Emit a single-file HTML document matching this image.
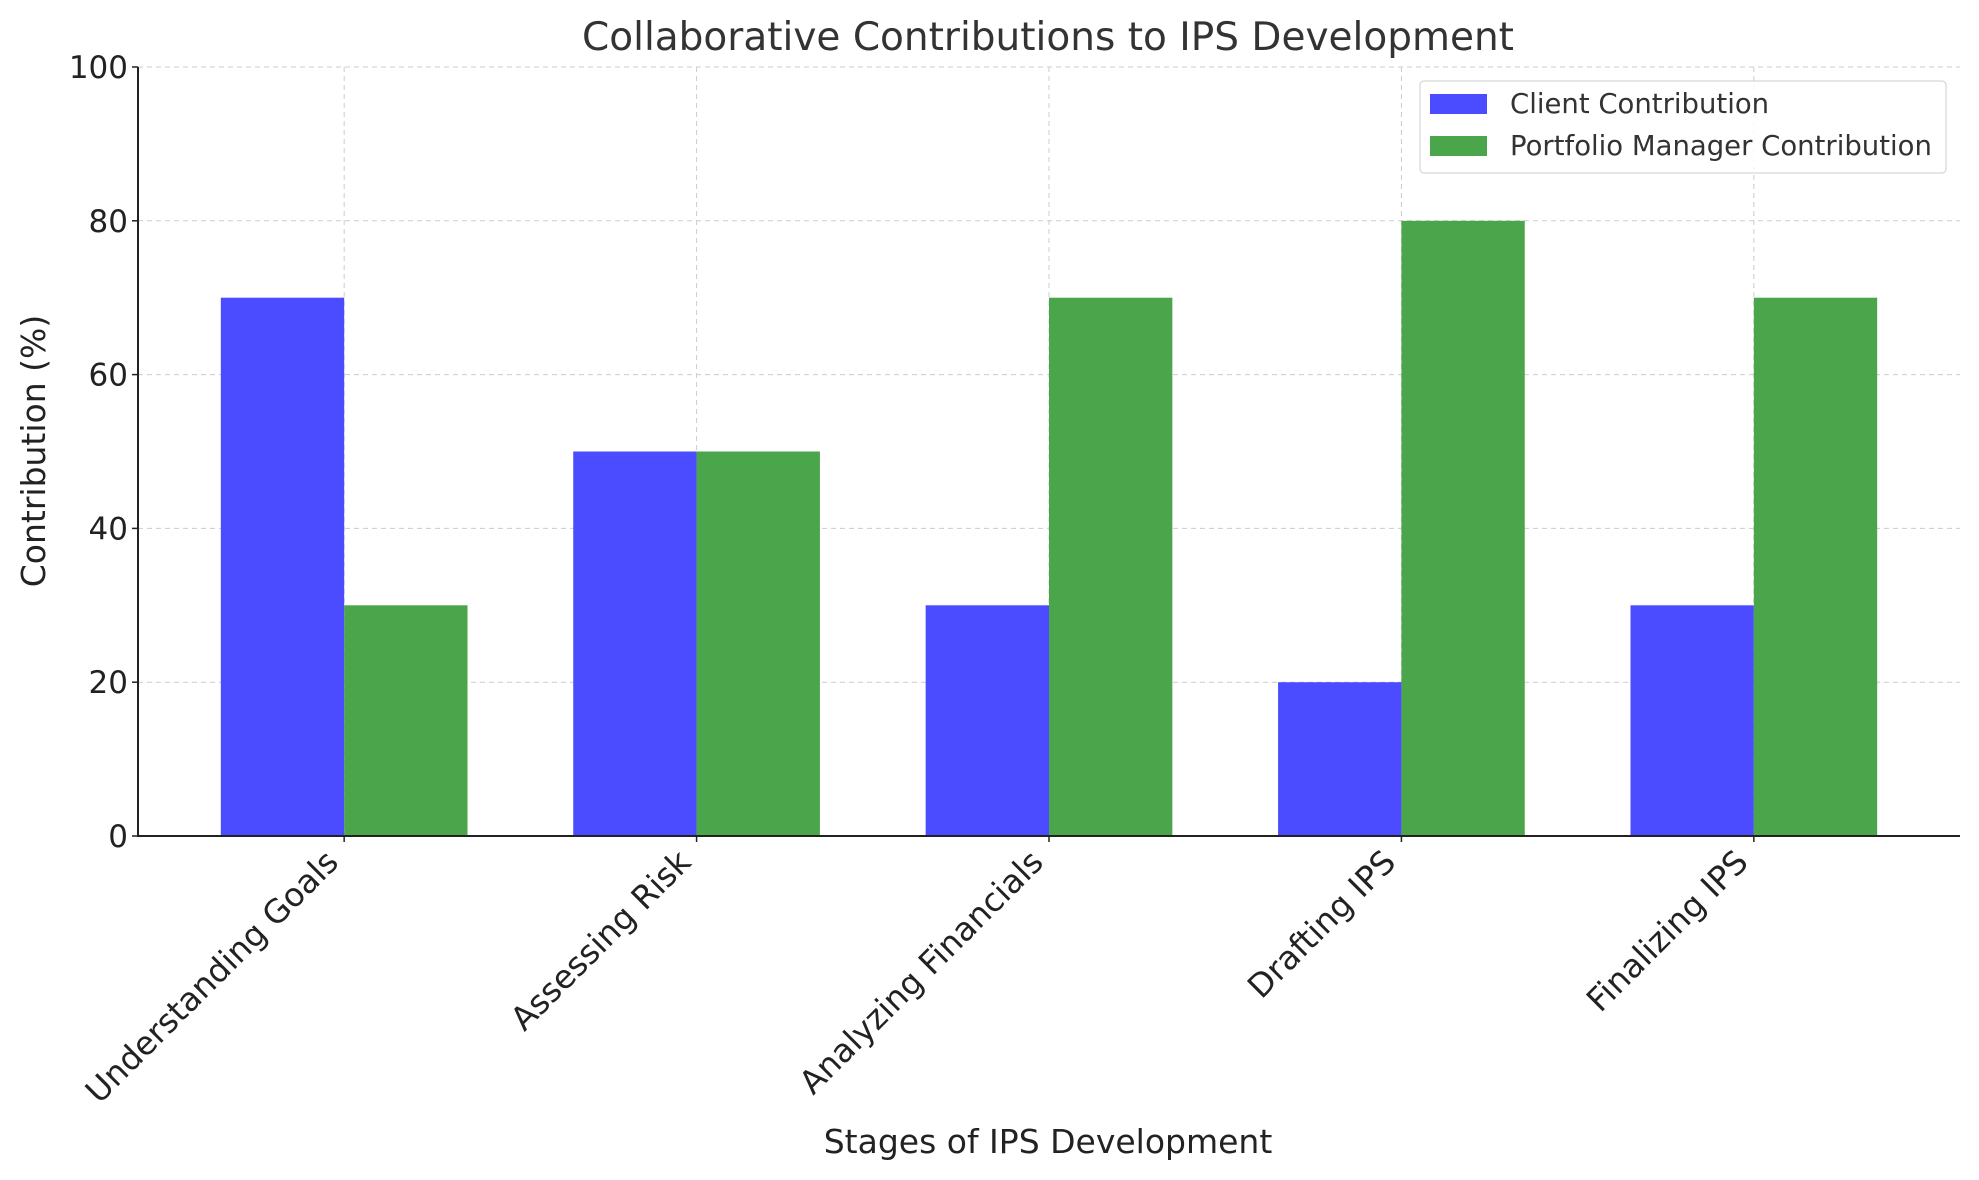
<!DOCTYPE html>
<html><head><meta charset="utf-8"><style>
body{margin:0;background:#fff;}
svg{display:block;font-family:"DejaVu Sans","Liberation Sans",sans-serif;}
</style></head><body>
<svg id="chart" width="1979" height="1180">
<text x="1048" y="50" font-size="39" text-anchor="middle" fill="#333">Collaborative Contributions to IPS Development</text>
<g id="grid"></g>
<g id="bars"></g>
<g id="axes"></g>
<text x="1048" y="1153" font-size="33" text-anchor="middle" fill="#222">Stages of IPS Development</text>
<text transform="translate(45,451) rotate(-90)" font-size="33" text-anchor="middle" fill="#222">Contribution (%)</text>
<g>
<rect x="1420" y="81" width="526" height="92" rx="4" fill="#fff" fill-opacity="0.85" stroke="#ccc"/>
<rect x="1430" y="94" width="57" height="20" fill="#4b4bff"/>
<text x="1510" y="113" font-size="27.5" fill="#333">Client Contribution</text>
<rect x="1430" y="136" width="57" height="20" fill="#4ba54b"/>
<text x="1510" y="155" font-size="27.5" fill="#333">Portfolio Manager Contribution</text>
</g>
</svg>
<script>
const categories=["Understanding Goals","Assessing Risk","Analyzing Financials","Drafting IPS","Finalizing IPS"];
const clientValues=[70,50,30,20,30];
const managerValues=[30,50,70,80,70];
const yTicks=[0,20,40,60,80,100];
const NS="http://www.w3.org/2000/svg";
const L=138,R=1960,T=67,B=836;
const xmin=-0.585,xmax=4.585,ymin=0,ymax=100,bw=0.35;
const xs=v=>L+(v-xmin)/(xmax-xmin)*(R-L);
const ys=v=>B-(v-ymin)/(ymax-ymin)*(B-T);
function mk(tag,attrs,parent){const e=document.createElementNS(NS,tag);for(const k in attrs)e.setAttribute(k,attrs[k]);parent.appendChild(e);return e;}
const grid=document.getElementById('grid'),bars=document.getElementById('bars'),axes=document.getElementById('axes');
yTicks.forEach(t=>{
 const g=mk('line',{x1:L,x2:R,y1:ys(t),y2:ys(t),stroke:'#ccc','stroke-dasharray':'5,4','stroke-width':1},grid);
 
 
 const tk=mk('line',{x1:L-6,x2:L,y1:ys(t),y2:ys(t),stroke:'#222','stroke-width':1.5},axes);
 
 
 const lb=mk('text',{x:L-10,y:ys(t)+11,'font-size':31,'text-anchor':'end',fill:'#222'},axes);
 lb.textContent=t;
 
 
});
categories.forEach((c,i)=>{
 const g=mk('line',{x1:xs(i),x2:xs(i),y1:T,y2:B,stroke:'#ccc','stroke-dasharray':'5,4','stroke-width':1},grid);
 
 
 const b1=mk('rect',{x:xs(i-bw),y:ys(clientValues[i]),width:xs(i)-xs(i-bw),height:ys(0)-ys(clientValues[i]),fill:'#4b4bff'},bars);
 
 
 const b2=mk('rect',{x:xs(i),y:ys(managerValues[i]),width:xs(i+bw)-xs(i),height:ys(0)-ys(managerValues[i]),fill:'#4ba54b'},bars);
 
 
 const tk=mk('line',{x1:xs(i),x2:xs(i),y1:B,y2:B+6,stroke:'#222','stroke-width':1.5},axes);
 
 
 const lb=mk('text',{transform:`translate(${xs(i)-4},${B+28}) rotate(-45)`,'font-size':32.5,'text-anchor':'end',fill:'#222'},axes);
 lb.textContent=c;
 
 
});
const ax=mk('line',{x1:L,x2:L,y1:T,y2:B,stroke:'#222','stroke-width':2},axes);


const bx=mk('line',{x1:L-1,x2:R,y1:B,y2:B,stroke:'#222','stroke-width':2},axes);


</script>
</body></html>
